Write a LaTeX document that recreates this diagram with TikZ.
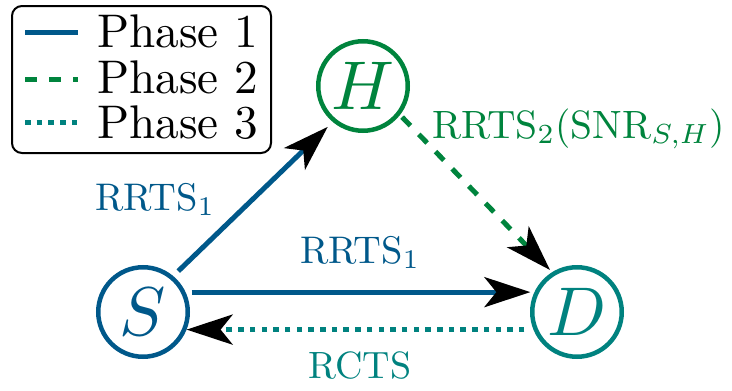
\documentclass[tikz,border=0pt]{standalone}
\usetikzlibrary{arrows.meta}

\definecolor{phaseone}{HTML}{00588A}
\definecolor{phasetwo}{HTML}{00843D}
\definecolor{phasethree}{HTML}{00827F}

% text is set at 10pt and enlarged, so the 10pt design sizes are kept
\newcommand{\enlarged}[2]{\scalebox{#1}{\fontsize{10}{12}\selectfont #2}}

\tikzset{
  station/.style={circle, draw, line width=4.5pt, minimum size=89.5pt, inner sep=0pt},
  tip/.style={-{Stealth[length=46pt, width=30pt, inset=12pt, black]}},
  link/.style={line width=5pt},
  solidlink/.style={link, phaseone},
  dashlink/.style={link, phasetwo, dash pattern=on 12pt off 12pt},
  dotlink/.style={link, phasethree, dash pattern=on 5.5pt off 6.2pt},
  lbl/.style={anchor=base west, inner sep=0pt},
}

\begin{document}
\begin{tikzpicture}[x=1pt, y=-1pt]
  \useasboundingbox (0,0) rectangle (732,391);

  % legend
  \draw[line width=2pt, rounded corners=10pt] (12,6) rectangle (271,153);
  \draw[solidlink] (25,32) -- (78,32);
  \draw[dashlink] (25,79) -- (78,79);
  \draw[dotlink] (25,122) -- (78,122);
  \node[lbl] (l1) at (97,47) {\enlarged{4.72}{Phase 1}};
  \node[lbl] (l2) at (97,93) {\enlarged{4.72}{Phase 2}};
  \node[lbl] (l3) at (97,138) {\enlarged{4.72}{Phase 3}};

  % stations
  \node[station, draw=phaseone, text=phaseone] (S) at (143,312) {\enlarged{6.9}{$S$}};
  \node[station, draw=phasetwo, text=phasetwo] (H) at (363,86) {\enlarged{6.9}{$H$}};
  \node[station, draw=phasethree, text=phasethree] (D) at (577,312) {\enlarged{6.9}{$D$}};

  % phase 1
  \draw[solidlink, tip, shorten <=7pt, shorten >=7pt] (S.50) -- (H.230);
  \draw[solidlink, tip, shorten <=6pt, shorten >=4pt] (S.25) -- (D.155);
  % phase 2
  \draw[dashlink, tip, shorten <=3pt, shorten >=3pt] (H.-38) -- (D.122);
  % phase 3
  \draw[dotlink, tip, shorten <=9pt] (D.202) -- (S.-22);

  % labels
  \node[lbl, text=phaseone] (a1) at (95,210) {\enlarged{3.85}{RRTS$_1$}};
  \node[lbl, text=phaseone] (a2) at (300,263) {\enlarged{3.85}{RRTS$_1$}};
  \node[lbl, text=phasetwo] (a3) at (432,138) {\enlarged{3.95}{RRTS$_2$(SNR$_{S,H}$)}};
  \node[lbl, text=phasethree] (a4) at (308,378) {\enlarged{3.8}{RCTS}};
\end{tikzpicture}
\end{document}
